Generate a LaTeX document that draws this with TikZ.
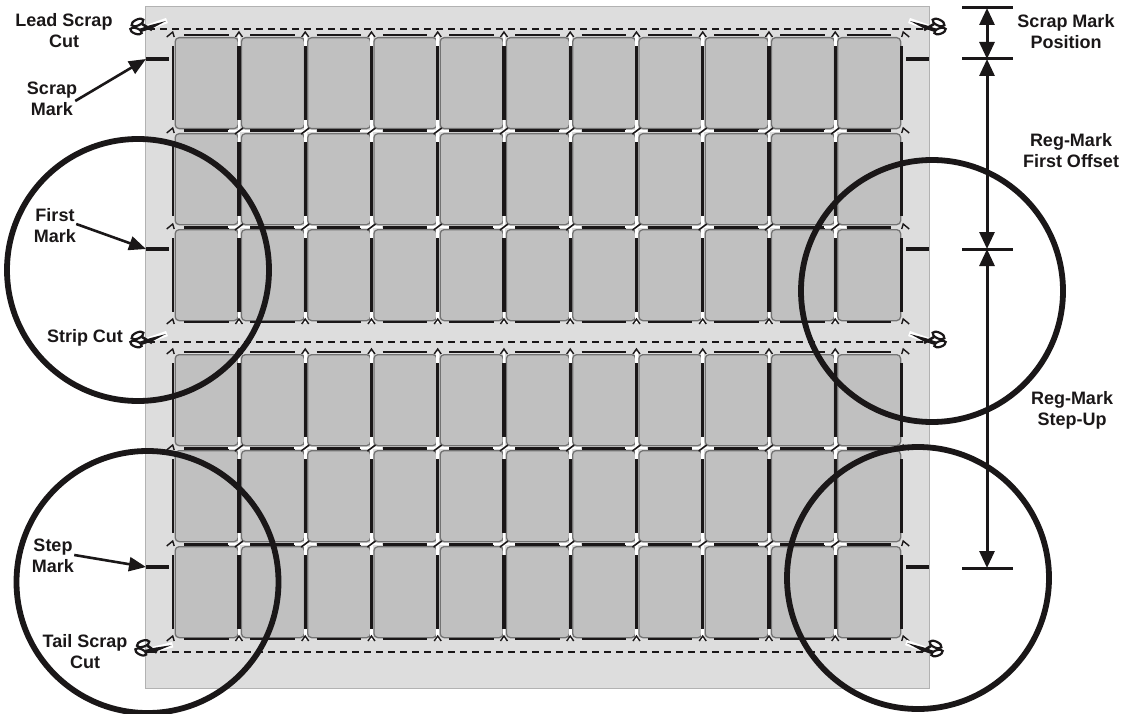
\documentclass[tikz,border=0pt]{standalone}
\usepackage{fontspec}
\setmainfont{Liberation Sans}
\usepackage{xcolor}
\usepackage{tikz}
\usetikzlibrary{arrows.meta}

\definecolor{inkblack}{HTML}{1A1718}
\definecolor{sheetgray}{HTML}{DDDDDD}
\definecolor{labelgray}{HTML}{C0C0C0}

\begin{document}
\begin{tikzpicture}[
  x=1pt, y=-1pt,
  font=\fontsize{18}{21}\selectfont\bfseries,
  sheet/.style={draw=black!30, line width=1pt, fill=sheetgray},
  labelcell/.style={draw=black!55, line width=1.3pt, fill=labelgray, rounded corners=4pt,
    minimum width=63pt, minimum height=91pt, inner sep=0pt, anchor=north west},
  gapline/.style={draw=inkblack, line width=3.4pt},
  edgeline/.style={draw=inkblack, line width=2.4pt},
  midline/.style={draw=inkblack, line width=3pt},
  slit/.style={draw=white, line width=2.6pt},
  chevron/.style={draw=inkblack, line width=1.4pt},
  slash/.style={draw=inkblack, line width=1.6pt},
  regmark/.style={draw=inkblack, line width=3.2pt},
  cutline/.style={draw=inkblack, line width=2pt, dash pattern=on 7pt off 5pt},
  ring/.style={draw=inkblack, circle, line width=5.8pt, minimum size=262pt, inner sep=0pt},
  tick/.style={draw=inkblack, line width=3pt},
  dim/.style={draw=inkblack, line width=3pt, {Triangle[length=17pt,width=15pt]}-{Triangle[length=17pt,width=15pt]}},
  pointer/.style={draw=inkblack, line width=2.6pt, -{Triangle[length=17pt,width=14pt]}},
  txt/.style={align=center, text=inkblack, inner sep=0pt},
  scissors/.pic={
    \draw[white, line width=5.5pt] (0,0) -- (21,-7.5);
    \draw[inkblack, line width=2.2pt, rotate around={25:(-8.5,-5.5)}] (-8.5,-5.5) ellipse (6.5 and 3);
    \draw[inkblack, line width=2.2pt, rotate around={-20:(-10,3)}] (-10,3) ellipse (6 and 2.8);
    \fill[inkblack] (-6,0.5) -- (-4.5,4) -- (6,0.5) -- (20,-7) -- (4,-2.8) -- cycle;
    \draw[inkblack, line width=2.6pt] (-4,-4) -- (6,2);
  },
]
  \useasboundingbox (0,0) rectangle (1124,714);

  % Sheet
  \draw[sheet] (145,7) rectangle (929,688);

  % Labels on the sheet
  \foreach \r in {37,133,229,354,450,546} {
    \foreach \c in {0,...,10} {
      \pgfmathsetmacro{\xc}{174.5+66.25*\c}
      \node[labelcell] (cell\r-\c) at (\xc,\r) {};
    }
    % Gaps between labels
    \foreach \c in {0,...,11} {
      \pgfmathsetmacro{\xg}{172.7+66.25*\c}
      \pgfmathsetmacro{\ya}{\r+9}
      \pgfmathsetmacro{\yb}{\r+83}
      \pgfmathsetmacro{\yc}{\r-2}
      \pgfmathsetmacro{\yd}{\r+94}
      \ifnum\c=0
        \draw[edgeline] (\xg,\ya) -- (\xg,\yb);
      \else\ifnum\c=11
        \draw[edgeline] (\xg,\ya) -- (\xg,\yb);
      \else
        \draw[gapline] (\xg,\ya) -- (\xg,\yb);
        \draw[slit] (\xg,\yc) -- (\xg,\ya);
        \draw[slit] (\xg,\yb) -- (\xg,\yd);
      \fi\fi
    }
  }

  % Strip edges
  \foreach \yb in {35,322,352,639} {
    \foreach \c in {0,...,10} {
      \pgfmathsetmacro{\xa}{184+66.25*\c}
      \pgfmathsetmacro{\xb}{228.5+66.25*\c}
      \draw[edgeline] (\xa,\yb) -- (\xb,\yb);
    }
  }

  % Lines inside a strip, white cross and slash at each junction
  \foreach \ym in {131,227,448,544} {
    \foreach \c in {0,...,10} {
      \pgfmathsetmacro{\xa}{184+66.25*\c}
      \pgfmathsetmacro{\xb}{228.5+66.25*\c}
      \draw[midline] (\xa,\ym) -- (\xb,\ym);
    }
    \foreach \c in {1,...,10} {
      \pgfmathsetmacro{\xg}{172.7+66.25*\c}
      \pgfmathsetmacro{\xa}{\xg-11}
      \pgfmathsetmacro{\xb}{\xg+11}
      \draw[slit] (\xa,\ym) -- (\xb,\ym);
      \draw[slash] ([shift={(-4,3)}]\xg,\ym) -- ([shift={(4,-3)}]\xg,\ym);
    }
  }

  % Corner marks
  \foreach \yc in {35,322,352,639} {
    \foreach \c in {1,...,10} {
      \pgfmathsetmacro{\xg}{172.7+66.25*\c}
      \draw[chevron] ([shift={(-3.5,2)}]\xg,\yc) -- ([shift={(0,-3)}]\xg,\yc) -- ([shift={(3.5,2)}]\xg,\yc);
    }
  }
  \foreach \yc in {35,131,227,322,352,448,544,639} {
    \draw[chevron] (166.7,\yc+2) -- (172.7,\yc-3) -- (174.2,\yc+2);
    \draw[chevron] (901.7,\yc+2) -- (903.2,\yc-3) -- (909.2,\yc+2);
  }

  % Cut lines
  \coordinate (leadL) at (148,29.5);
  \coordinate (leadR) at (928,29.5);
  \coordinate (stripL) at (148,342);
  \coordinate (stripR) at (928,342);
  \coordinate (tailL) at (148,652);
  \coordinate (tailR) at (928,652);

  \pic at (146,28) {scissors};
  \pic at (146,341) {scissors};
  \pic[rotate=-6] at (151,650) {scissors};
  \pic[xscale=-1] at (930,28) {scissors};
  \pic[xscale=-1] at (930,341) {scissors};
  \pic[xscale=-1] at (927,650) {scissors};

  \foreach \a/\b in {leadL/leadR, stripL/stripR, tailL/tailR}
    \draw[cutline] (\a) -- (\b);

  % Registration marks
  \foreach \m in {59,249,567} {
    \coordinate (markL\m) at (146,\m);
    \coordinate (markR\m) at (929,\m);
    \draw[regmark] (markL\m) -- (169,\m);
    \draw[regmark] (906,\m) -- (markR\m);
  }

  % Rings
  \node[ring] (ringFirst) at (138,270) {};
  \node[ring] (ringStrip) at (932,291) {};
  \node[ring] (ringTail)  at (147.5,582) {};
  \node[ring] (ringStep)  at (918,578) {};

  % Dimensions
  \foreach \t/\y in {a/8,b/59,c/249,d/568} {
    \coordinate (dim\t) at (987,\y);
    \draw[tick] (962,\y) -- (1013,\y);
  }
  \foreach \a/\b in {a/b, b/c, c/d}
    \draw[dim] (dim\a) -- (dim\b);

  % Text
  \node[txt] (leadcut)  at (64,31)  {Lead Scrap\\Cut};
  \node[txt] (scrapm)   at (52,99)  {Scrap\\Mark};
  \node[txt] (firstm)   at (55,226) {First\\Mark};
  \node[txt] (stripcut) at (85,338) {Strip Cut};
  \node[txt] (stepm)    at (53,556) {Step\\Mark};
  \node[txt] (tailcut)  at (85,652) {Tail Scrap\\Cut};
  \node[txt] (scrappos) at (1066,32)  {Scrap Mark\\Position};
  \node[txt] (regfirst) at (1071,151) {Reg-Mark\\First Offset};
  \node[txt] (regstep)  at (1072,410) {Reg-Mark\\Step-Up};

  % Pointers
  \draw[pointer] (scrapm.east) ++(-2,2) -- (markL59);
  \draw[pointer] (firstm.east) ++(0,-2) -- (markL249);
  \draw[pointer] (stepm.east)  ++(0,-1) -- (markL567);
\end{tikzpicture}
\end{document}
